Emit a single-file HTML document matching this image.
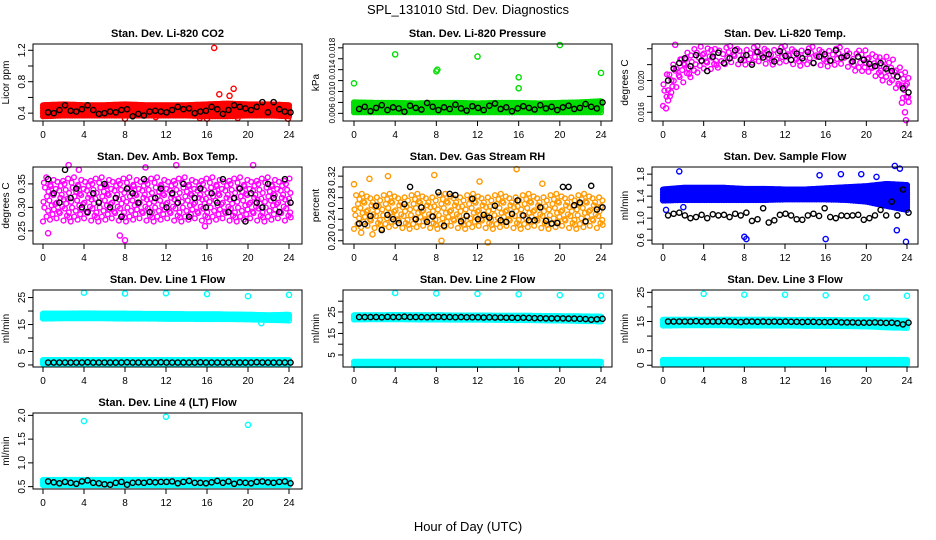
<!DOCTYPE html>
<html><head><meta charset="utf-8"><style>
body{margin:0;background:#fff}
svg{display:block;font-family:"Liberation Sans",Arial,sans-serif}
</style></head><body>
<svg id="chart" width="936" height="540" viewBox="0 0 936 540" xmlns="http://www.w3.org/2000/svg">
<rect width="936" height="540" fill="#fff"/>
<text x="468" y="14" text-anchor="middle" font-size="13">SPL_131010  Std. Dev. Diagnostics</text>
<text x="468" y="531" text-anchor="middle" font-size="13">Hour of Day (UTC)</text>
</svg>
<script>
const hourTicks = [0,4,8,12,16,20,24];
// CO2
const co2BandLo = [0.36,0.37,0.37,0.37,0.37,0.37,0.37,0.37,0.36,0.36,0.37,0.37,0.36];
const co2BandHi = [0.50,0.51,0.50,0.50,0.51,0.50,0.50,0.50,0.51,0.52,0.51,0.51,0.50];
const co2OutX = [16.7,17.2,18.6,18.2,23.9,15.3,16.0,11.0,8.0,19.0];
const co2OutY = [1.23,0.64,0.71,0.62,0.33,0.34,0.33,0.35,0.33,0.34];
const co2Black = [0.41,0.40,0.44,0.50,0.43,0.42,0.45,0.50,0.44,0.39,0.40,0.42,0.41,0.44,0.45,0.36,0.39,0.37,0.42,0.43,0.42,0.41,0.44,0.48,0.45,0.46,0.40,0.42,0.43,0.48,0.45,0.39,0.44,0.50,0.48,0.46,0.44,0.48,0.54,0.41,0.54,0.45,0.42,0.41];
// Pressure
const presBandLo = [0.0062,0.0062,0.0062,0.0062,0.0062,0.0062,0.0062,0.0062,0.0062,0.0062,0.0062,0.0062,0.0062];
const presBandHi = [0.0080,0.0079,0.0079,0.0078,0.0079,0.0079,0.0078,0.0079,0.0079,0.0078,0.0079,0.0080,0.0082];
const presOutX = [0,4,8,8.1,12,16,16,20,24];
const presOutY = [0.0115,0.0168,0.0137,0.0140,0.0164,0.0126,0.0106,0.0185,0.0134];
const presBlack = [0.0068,0.0072,0.0064,0.0070,0.0075,0.0066,0.0071,0.0069,0.0063,0.0074,0.0070,0.0067,0.0079,0.0072,0.0066,0.0071,0.0068,0.0076,0.0069,0.0065,0.0073,0.0070,0.0066,0.0074,0.0078,0.0068,0.0071,0.0064,0.0069,0.0073,0.0070,0.0067,0.0075,0.0069,0.0072,0.0066,0.0071,0.0074,0.0068,0.0070,0.0077,0.0072,0.0069,0.0080];
// Li-820 Temp
const tempBandLo = [0.0168,0.0200,0.0212,0.0218,0.0220,0.0220,0.0220,0.0218,0.0218,0.0216,0.0208,0.0198,0.0168];
const tempBandHi = [0.0205,0.0240,0.0244,0.0244,0.0244,0.0244,0.0244,0.0243,0.0243,0.0242,0.0238,0.0232,0.0212];
const tempOutX = [0.3,0.5,1.2,23.9,23.5,0.8,23.8];
const tempOutY = [0.0165,0.0175,0.0245,0.0150,0.0172,0.0185,0.0160];
const tempBlack = [0.0200,0.0215,0.0222,0.0228,0.0218,0.0232,0.0225,0.0212,0.0230,0.0235,0.0222,0.0228,0.0238,0.0226,0.0232,0.0220,0.0236,0.0229,0.0233,0.0224,0.0237,0.0231,0.0226,0.0234,0.0228,0.0236,0.0222,0.0230,0.0233,0.0225,0.0238,0.0229,0.0231,0.0224,0.0230,0.0226,0.0221,0.0218,0.0222,0.0215,0.0212,0.0205,0.0190,0.0185];
// Amb box temp
const ambBandLo = [0.27,0.27,0.27,0.27,0.27,0.27,0.27,0.27,0.27,0.27,0.27,0.27,0.27];
const ambBandHi = [0.365,0.365,0.365,0.365,0.365,0.365,0.365,0.365,0.365,0.365,0.365,0.365,0.365];
const ambOutX = [7.5,8,13,20.5,3.5,10,0.5,15.8,2.5];
const ambOutY = [0.24,0.23,0.39,0.39,0.38,0.385,0.245,0.26,0.39];
const ambBlack = [0.36,0.33,0.31,0.38,0.32,0.34,0.30,0.29,0.33,0.31,0.35,0.30,0.32,0.28,0.34,0.33,0.31,0.36,0.29,0.32,0.34,0.30,0.33,0.31,0.35,0.28,0.32,0.34,0.30,0.33,0.31,0.36,0.29,0.32,0.34,0.27,0.33,0.31,0.30,0.35,0.32,0.29,0.36,0.31];
// RH
const rhBandLo = [0.222,0.222,0.222,0.222,0.222,0.222,0.222,0.222,0.222,0.222,0.222,0.222,0.222];
const rhBandHi = [0.288,0.288,0.288,0.288,0.288,0.288,0.288,0.288,0.288,0.288,0.288,0.288,0.288];
const rhOutX = [0,1.5,3.3,7.8,12.2,13,15.8,8.5,18.3,0.7,1.8];
const rhOutY = [0.305,0.315,0.32,0.322,0.31,0.197,0.333,0.20,0.306,0.215,0.212];
const rhBlack = [0.232,0.231,0.246,0.265,0.220,0.248,0.240,0.233,0.268,0.300,0.240,0.262,0.235,0.245,0.290,0.228,0.287,0.285,0.236,0.246,0.278,0.240,0.248,0.243,0.265,0.238,0.235,0.250,0.275,0.247,0.238,0.238,0.262,0.237,0.232,0.233,0.300,0.300,0.266,0.271,0.236,0.302,0.258,0.262];
// Sample flow
const flowBandLo = [1.32,1.33,1.33,1.33,1.33,1.33,1.34,1.34,1.34,1.33,1.30,1.22,1.15];
const flowBandHi = [1.52,1.55,1.55,1.55,1.53,1.53,1.52,1.52,1.54,1.56,1.58,1.62,1.60];
const flowOutX = [1.6,8,8.2,16,17.5,15.4,22.8,23.3,23,23.9,2,0.3,19.5,21];
const flowOutY = [1.85,0.66,0.62,0.62,1.80,1.78,1.95,1.90,0.78,0.57,1.2,1.15,1.8,1.75];
const flowBlack = [1.05,1.08,1.10,1.05,1.00,1.02,1.06,1.00,1.07,1.05,1.06,1.02,1.08,1.05,1.10,0.95,0.98,1.18,0.92,0.96,1.06,1.08,1.05,0.98,0.97,1.05,1.08,1.04,1.18,1.02,1.00,1.05,1.04,1.05,1.06,0.97,1.00,1.05,1.15,1.05,1.30,1.05,1.52,1.10];
// Line flows
const line1BandLo = [17.2,17.3,17.3,17.3,17.2,17.2,17.1,17.1,17.0,17.0,16.9,16.7,16.5];
const line1BandHi = [19.0,19.0,19.1,19.0,19.0,18.9,18.9,18.8,18.8,18.7,18.6,18.4,18.6];
const line1LowLo = [0.4,0.4,0.4,0.4,0.4,0.4,0.4,0.4,0.4,0.4,0.4,0.4,0.4];
const line1LowHi = [1.8,1.8,1.8,1.8,1.8,1.8,1.8,1.8,1.8,1.8,1.8,1.8,1.8];
const line1OutX = [4,8,12,16,20,24,21.3];
const line1OutY = [26.8,26.5,26.6,26.3,25.5,26.0,15.5];
const line1Black = [0.9,0.9,0.9,0.9,0.9,0.9,0.9,1.0,0.9,0.9,0.9,0.9,0.9,0.9,1.0,0.9,0.9,0.9,0.9,0.9,1.0,0.9,0.9,0.9,0.9,0.9,0.9,1.0,0.9,0.9,0.9,0.9,0.9,0.9,0.9,0.9,0.9,1.0,0.9,0.9,0.9,0.9,0.9,0.9];
const line2BandLo = [21.5,21.6,21.6,21.5,21.5,21.4,21.4,21.3,21.2,21.1,21.0,20.8,20.6];
const line2BandHi = [23.4,23.4,23.5,23.4,23.4,23.3,23.3,23.2,23.2,23.1,23.0,22.9,22.8];
const line2LowLo = [0.3,0.3,0.3,0.3,0.3,0.3,0.3,0.3,0.3,0.3,0.3,0.3,0.3];
const line2LowHi = [1.8,1.8,1.8,1.8,1.8,1.8,1.8,1.8,1.8,1.8,1.8,1.8,1.8];
const line2OutX = [4,8,12,16,20,24];
const line2OutY = [33.8,33.6,33.4,33.2,32.8,32.6];
const line2Black = [22.6,22.6,22.6,22.6,22.5,22.7,22.6,22.6,22.8,22.6,22.6,22.6,22.5,22.6,22.7,22.6,22.6,22.5,22.6,22.5,22.5,22.5,22.4,22.5,22.4,22.4,22.3,22.3,22.2,22.3,22.2,22.1,22.1,22.0,22.0,22.0,22.0,21.9,21.9,21.8,21.7,21.4,21.6,21.8];
const line3BandLo = [13.6,13.7,13.7,13.7,13.6,13.6,13.6,13.5,13.5,13.4,13.3,13.0,12.8];
const line3BandHi = [15.6,15.6,15.6,15.6,15.6,15.6,15.5,15.5,15.5,15.4,15.4,15.3,15.2];
const line3LowLo = [0.4,0.4,0.4,0.4,0.4,0.4,0.4,0.4,0.4,0.4,0.4,0.4,0.4];
const line3LowHi = [1.8,1.8,1.8,1.8,1.8,1.8,1.8,1.8,1.8,1.8,1.8,1.8,1.8];
const line3OutX = [4,8,12,16,20,24];
const line3OutY = [24.5,24.2,24.2,24.0,23.2,23.8];
const line3Black = [15.0,15.0,15.0,15.0,15.0,15.1,15.0,15.0,15.0,15.0,15.1,15.0,14.9,14.8,15.0,15.0,14.9,15.0,14.9,15.0,14.9,15.0,14.9,14.9,14.8,14.9,14.9,14.8,14.8,14.8,14.9,14.7,14.7,14.7,14.6,14.6,14.6,14.7,14.6,14.5,14.6,14.4,14.0,14.6];
const line4BandLo = [0.53,0.53,0.53,0.53,0.53,0.53,0.53,0.53,0.53,0.53,0.53,0.53,0.53];
const line4BandHi = [0.64,0.64,0.64,0.64,0.64,0.64,0.64,0.64,0.64,0.64,0.64,0.64,0.64];
const line4OutX = [4,12,20];
const line4OutY = [1.88,1.97,1.80];
const line4Black = [0.61,0.59,0.57,0.60,0.58,0.56,0.61,0.63,0.58,0.57,0.55,0.54,0.58,0.60,0.54,0.58,0.59,0.58,0.60,0.59,0.60,0.60,0.61,0.57,0.60,0.62,0.58,0.58,0.57,0.59,0.62,0.58,0.61,0.56,0.59,0.58,0.57,0.60,0.61,0.59,0.58,0.60,0.61,0.57];

const svg = document.getElementById('chart');
const NS = 'http://www.w3.org/2000/svg';
function mk(tag, attrs, parent){const e=document.createElementNS(NS,tag);for(const k in attrs)e.setAttribute(k,attrs[k]);(parent||svg).appendChild(e);return e;}

const cols = [{l:33,r:302,x0:43,x24:289},{l:343,r:612,x0:354,x24:601},{l:652,r:918,x0:663,x24:907}];
const rows = [{t:44,b:121},{t:167,b:244},{t:290,b:367},{t:413,b:489}];

const panels = [
 {name:'co2',title:'Stan. Dev. Li-820 CO2',ylab:'Licor ppm',c:0,r:0,dom:[0.30,1.28],ticks:[0.4,0.6,0.8,1.0,1.2],labs:[0.4,0.8,1.2],fmt:1,col:'#ff0000',bands:[[co2BandLo,co2BandHi]],ox:co2OutX,oy:co2OutY,blk:co2Black,sparse:false},
 {name:'pressure',title:'Stan. Dev. Li-820 Pressure',ylab:'kPa',c:1,r:0,dom:[0.0046,0.0187],ticks:[0.006,0.008,0.010,0.012,0.014,0.016,0.018],labs:[0.006,0.010,0.014,0.018],fmt:3,col:'#00dd00',bands:[[presBandLo,presBandHi]],ox:presOutX,oy:presOutY,blk:presBlack,sparse:false},
 {name:'li820-temp',title:'Stan. Dev. Li-820 Temp.',ylab:'degrees C',c:2,r:0,dom:[0.0149,0.0246],ticks:[0.016,0.018,0.020,0.022,0.024],labs:[0.016,0.020],fmt:3,col:'#ff00ff',bands:[[tempBandLo,tempBandHi]],ox:tempOutX,oy:tempOutY,blk:tempBlack,sparse:true},
 {name:'amb-box-temp',title:'Stan. Dev. Amb. Box Temp.',ylab:'degrees C',c:0,r:1,dom:[0.222,0.386],ticks:[0.25,0.30,0.35],labs:[0.25,0.30,0.35],fmt:2,col:'#ff00ff',bands:[[ambBandLo,ambBandHi]],ox:ambOutX,oy:ambOutY,blk:ambBlack,sparse:true},
 {name:'gas-stream-rh',title:'Stan. Dev. Gas Stream RH',ylab:'percent',c:1,r:1,dom:[0.194,0.337],ticks:[0.20,0.22,0.24,0.26,0.28,0.30,0.32],labs:[0.20,0.24,0.28,0.32],fmt:2,col:'#ff9900',bands:[[rhBandLo,rhBandHi]],ox:rhOutX,oy:rhOutY,blk:rhBlack,sparse:true},
 {name:'sample-flow',title:'Stan. Dev. Sample Flow',ylab:'ml/min',c:2,r:1,dom:[0.53,1.93],ticks:[0.6,0.8,1.0,1.2,1.4,1.6,1.8],labs:[0.6,1.0,1.4,1.8],fmt:1,col:'#0000ff',bands:[[flowBandLo,flowBandHi]],ox:flowOutX,oy:flowOutY,blk:flowBlack,sparse:false},
 {name:'line1-flow',title:'Stan. Dev. Line 1 Flow',ylab:'ml/min',c:0,r:2,dom:[-0.75,27.8],ticks:[0,5,10,15,20,25],labs:[0,5,15,25],fmt:0,col:'#00ffff',bands:[[line1BandLo,line1BandHi],[line1LowLo,line1LowHi]],ox:line1OutX,oy:line1OutY,blk:line1Black,sparse:false},
 {name:'line2-flow',title:'Stan. Dev. Line 2 Flow',ylab:'ml/min',c:1,r:2,dom:[-0.6,35.2],ticks:[5,10,15,20,25,30],labs:[5,15,25],fmt:0,col:'#00ffff',bands:[[line2BandLo,line2BandHi],[line2LowLo,line2LowHi]],ox:line2OutX,oy:line2OutY,blk:line2Black,sparse:false},
 {name:'line3-flow',title:'Stan. Dev. Line 3 Flow',ylab:'ml/min',c:2,r:2,dom:[-0.6,25.8],ticks:[0,5,10,15,20,25],labs:[0,5,15,25],fmt:0,col:'#00ffff',bands:[[line3BandLo,line3BandHi],[line3LowLo,line3LowHi]],ox:line3OutX,oy:line3OutY,blk:line3Black,sparse:false},
 {name:'line4-flow',title:'Stan. Dev. Line 4 (LT) Flow',ylab:'ml/min',c:0,r:3,dom:[0.45,2.05],ticks:[0.5,1.0,1.5,2.0],labs:[0.5,1.0,1.5,2.0],fmt:1,col:'#00ffff',bands:[[line4BandLo,line4BandHi]],ox:line4OutX,oy:line4OutY,blk:line4Black,sparse:false}
];

function interp(arr,h){const i=Math.min(11,Math.floor(h/2));const f=(h-i*2)/2;return arr[i]+(arr[i+1]-arr[i])*f;}
const phase=[0,0.55,0.2,0.8,0.35,0.95,0.1,0.65,0.45];

panels.forEach(p=>{
  const C=cols[p.c],R=rows[p.r];
  const xs=h=>C.x0+h*(C.x24-C.x0)/24;
  const ys=v=>R.b-(v-p.dom[0])/(p.dom[1]-p.dom[0])*(R.b-R.t);
  const g=mk('g',{});
  
  
  const t=mk('text',{x:(C.l+C.r)/2,y:R.t-7,'text-anchor':'middle','font-size':'11','font-weight':'bold'},g);
  t.textContent=p.title;
  
  
  const yl=mk('text',{x:0,y:0,'text-anchor':'middle','font-size':'10',transform:`translate(${C.l-24},${(R.t+R.b)/2}) rotate(-90)`},g);
  yl.textContent=p.ylab;
  
  
  const pts=mk('g',{fill:'none','stroke-width':'1.4'},g);
  
  
  p.bands.forEach(b=>{
    const dt=p.sparse?0.3:0.08;
    let i=0;
    for(let h=0;h<=24.001;h+=dt,i++){
      const lo=interp(b[0],h),hi=interp(b[1],h);
      const px=Math.abs(ys(lo)-ys(hi));
      if(p.sparse){
        const n=Math.max(1,Math.round(px/9));
        for(let k=0;k<n;k++){
          const fr=(k+phase[(i+k)%9])/n;
          const hx=h+phase[(i*2+k)%9]*0.25;
          const c=mk('circle',{cx:xs(hx).toFixed(1),cy:ys(lo+(hi-lo)*fr).toFixed(1),r:2.4,stroke:p.col},pts);
          
          
        }
      } else {
        const n=Math.max(1,Math.round(px/2.5));
        for(let k=0;k<=n;k++){
          const fr=Math.min(1,(k+(i%3)/3)/n);
          const c=mk('circle',{cx:xs(h).toFixed(1),cy:ys(lo+(hi-lo)*fr).toFixed(1),r:2.4,stroke:p.col},pts);
          
          
        }
      }
    }
  });
  p.ox.forEach((h,j)=>{
    const c=mk('circle',{cx:xs(h),cy:ys(p.oy[j]),r:2.6,stroke:p.col},pts);
    
    
  });
  p.blk.forEach((v,j)=>{
    const c=mk('circle',{cx:xs(0.5+j*0.55),cy:ys(v),r:2.6,stroke:'#000'},pts);
    
    
  });
  const box=mk('rect',{x:C.l,y:R.t,width:C.r-C.l,height:R.b-R.t,fill:'none',stroke:'#000','stroke-width':'1'},g);
  
  
  const xa=mk('g',{},g);
  
  
  mk('line',{x1:xs(0),x2:xs(24),y1:R.b,y2:R.b,stroke:'#000'},xa);
  hourTicks.forEach(h=>{
    mk('line',{x1:xs(h),x2:xs(h),y1:R.b,y2:R.b+5,stroke:'#000'},xa);
    const tl=mk('text',{x:xs(h),y:R.b+17,'text-anchor':'middle','font-size':'10'},xa);
    tl.textContent=h;
    
    
  });
  const ya=mk('g',{},g);
  
  
  mk('line',{x1:C.l,x2:C.l,y1:ys(p.ticks[0]),y2:ys(p.ticks[p.ticks.length-1]),stroke:'#000'},ya);
  p.ticks.forEach(v=>mk('line',{x1:C.l-5,x2:C.l,y1:ys(v),y2:ys(v),stroke:'#000'},ya));
  p.labs.forEach(v=>{
    const tl=mk('text',{x:0,y:0,'text-anchor':'middle','font-size':p.fmt===3?'8':'10',transform:`translate(${C.l-8},${ys(v)}) rotate(-90)`},ya);
    tl.textContent=v.toFixed(p.fmt);
    
    
  });
});
</script>
</body></html>
